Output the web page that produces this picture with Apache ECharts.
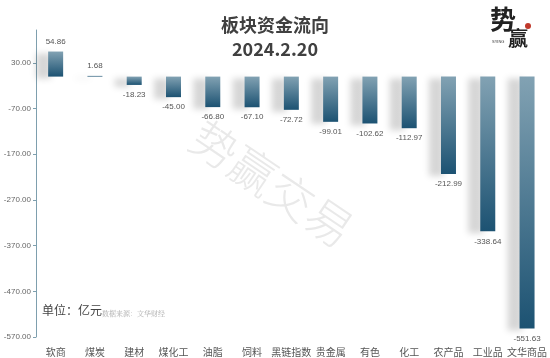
<!DOCTYPE html>
<html><head><meta charset="utf-8">
<script src="https://cdn.jsdelivr.net/npm/echarts@6/dist/echarts.min.js"></script>
<style>html,body{margin:0;padding:0;background:#fff}#c{width:550px;height:358px}</style>
</head><body><div id="c"></div>
<script>
var categories = ['软商','煤炭','建材','煤化工','油脂','饲料','黑链指数','贵金属','有色','化工','农产品','工业品','文华商品'];
var values = [54.86, 1.68, -18.23, -45.00, -66.80, -67.10, -72.72, -99.01, -102.62, -112.97, -212.99, -338.64, -551.63];
var yMin = -570, yMax = 102, yStep = 100;

var chart = echarts.init(document.getElementById('c'), null, {renderer: 'canvas'});
var grad = new echarts.graphic.LinearGradient(0, 0, 0, 1, [
  {offset: 0, color: '#82a2b3'}, {offset: 1, color: '#1c5272'}
]);
chart.setOption({
  animation: false,
  backgroundColor: '#fff',
  title: {
    text: '板块资金流向\n2024.2.20', left: 'center', top: 8,
    textStyle: {fontFamily: 'Noto Sans CJK SC', fontSize: 18, fontWeight: 'bold', color: '#404040', lineHeight: 24}
  },
  grid: {left: 36, right: 2, top: 30, bottom: 21},
  xAxis: {
    type: 'category', data: categories,
    axisLine: {show: false, onZero: false}, axisTick: {show: false},
    axisLabel: {color: '#555', fontSize: 10, margin: 10, interval: 0, fontFamily: 'Noto Sans CJK SC'}
  },
  yAxis: {
    type: 'value', min: yMin, max: yMax, interval: yStep,
    splitLine: {show: false},
    axisLine: {show: true, lineStyle: {color: '#7e9fae', width: 1}},
    axisTick: {show: true, length: 3, lineStyle: {color: '#7e9fae'}},
    axisLabel: {color: '#666', fontSize: 8, margin: 5, showMaxLabel: false, formatter: function (v) { return v.toFixed(2); }}
  },
  series: [{
    type: 'bar', barWidth: 15,
    data: values.map(function (v) {
      return {value: v, label: {position: v >= 0 ? 'top' : 'bottom'}};
    }),
    itemStyle: {color: grad, shadowColor: 'rgba(0,0,0,0.16)', shadowBlur: 6, shadowOffsetX: -12, shadowOffsetY: 2},
    label: {show: true, fontSize: 8, color: '#555', distance: 6, formatter: function (p) { return p.value.toFixed(2); }}
  }],
  graphic: [
    {type: 'text', left: 183, top: 113, rotation: -34 * Math.PI / 180, originX: 0, originY: 0, z: -1,
     style: {text: '势赢交易', fontSize: 46, fill: '#e9e9e9', fontFamily: 'Noto Sans CJK SC', fontWeight: 300}},
    {type: 'text', left: 42, top: 304, style: {text: '单位：亿元', fontSize: 12, fill: '#444', fontFamily: 'Noto Sans CJK SC'}},
    {type: 'text', left: 102, top: 310, style: {text: '数据来源：文华财经', fontSize: 7, fill: '#aaa', fontFamily: 'Noto Serif CJK SC, Noto Sans CJK SC'}},
    {type: 'text', left: 490, top: 6, style: {text: '势', fontSize: 26, fill: '#222', fontWeight: 'bold', fontFamily: 'Noto Sans CJK SC'}},
    {type: 'text', left: 508, top: 28, style: {text: '赢', fontSize: 20, fill: '#222', fontWeight: 'bold', fontFamily: 'Noto Sans CJK SC'}},
    {type: 'text', left: 492, top: 40, style: {text: 'SYING', fontSize: 4, fill: '#333'}},
    {type: 'circle', shape: {cx: 528, cy: 26, r: 3}, style: {fill: '#c0392b'}}
  ]
});
</script></body></html>
